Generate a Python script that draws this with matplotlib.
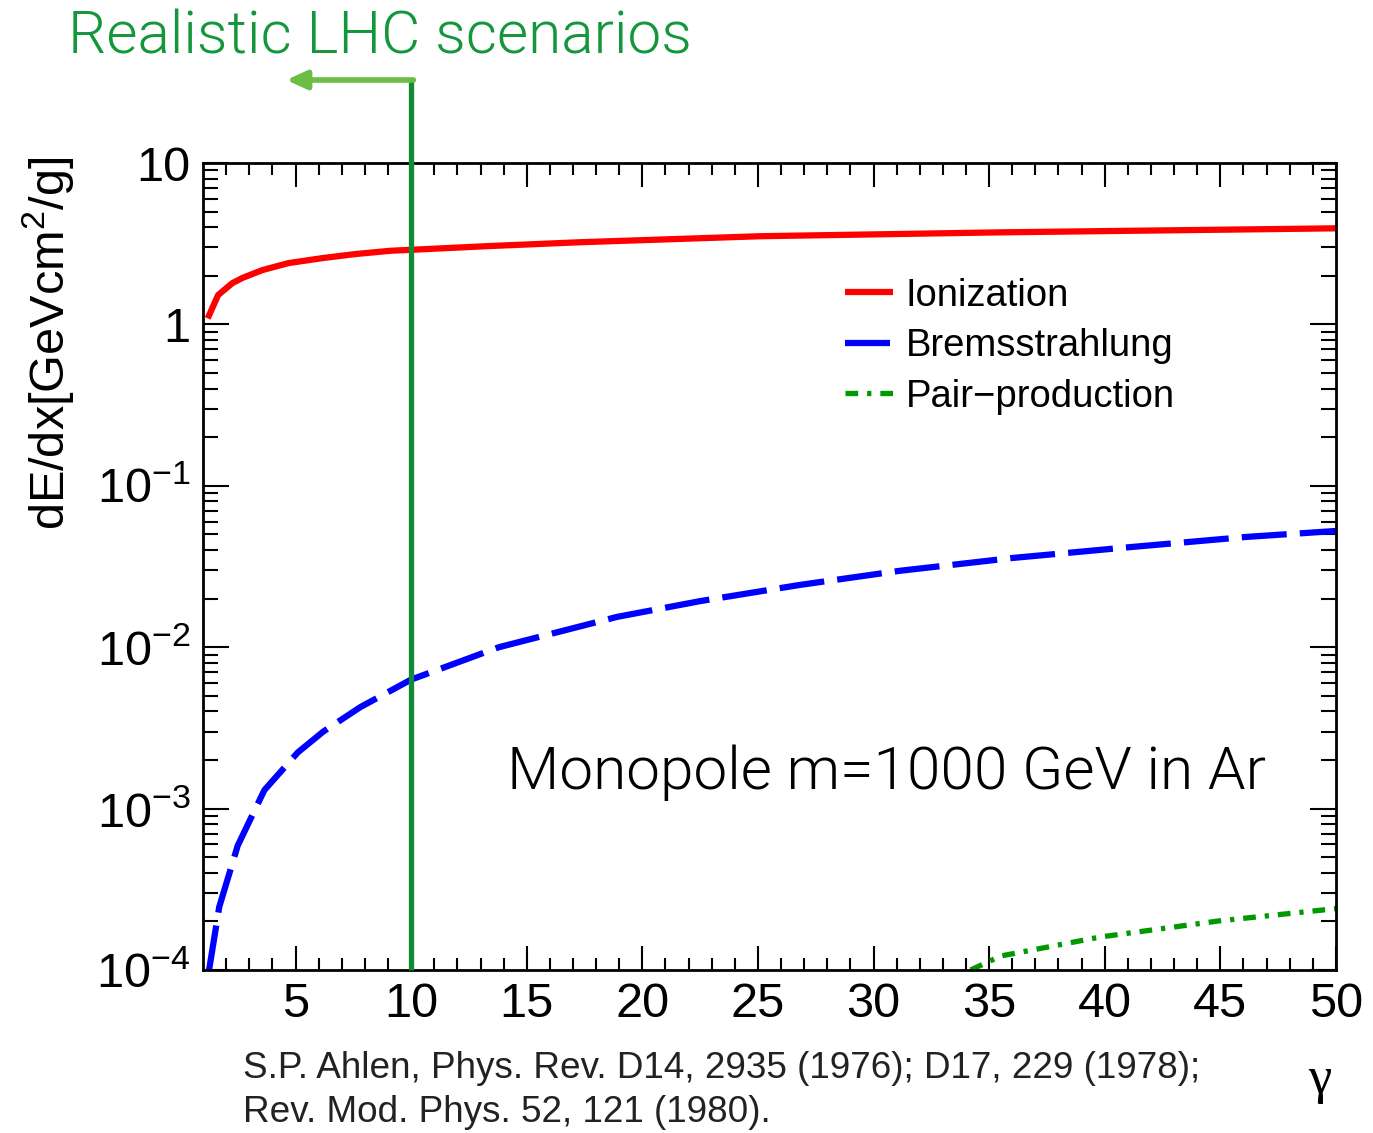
import numpy as np
import matplotlib
matplotlib.use("Agg")
import matplotlib.pyplot as plt
from matplotlib.ticker import FixedLocator, LogLocator, NullFormatter

# --- data ---
gamma_ion = [1.2, 1.65, 2.26, 2.7, 3.56, 4.7, 6.2, 7.6, 9.1, 10, 13.4, 17.3, 25.1, 35.5, 50]
ionization = [1.09, 1.52, 1.80, 1.94, 2.17, 2.40, 2.58, 2.73, 2.86, 2.90, 3.06, 3.23,
              3.52, 3.72, 3.94]

gamma_brems = [1.26, 1.7, 2.5, 3.65, 5.1, 6.2, 7.8, 10, 13.8, 18.9, 22.5,
               26.8, 31.1, 36, 41.1, 46.1, 50]
bremsstrahlung = [1.0e-4, 2.46e-4, 5.9e-4, 1.3e-3, 2.23e-3, 3.0e-3, 4.25e-3,
                  6.3e-3, 0.0100, 0.0154, 0.0193, 0.0243, 0.0297, 0.0357, 0.0417,
                  0.0482, 0.0525]

gamma_pair = [34.2, 35.5, 39.8, 44.9, 50]
pair_production = [1.0e-4, 1.22e-4, 1.60e-4, 2.01e-4, 2.40e-4]

x_ticks = [5, 10, 15, 20, 25, 30, 35, 40, 45, 50]
y_ticks = [1e-4, 1e-3, 1e-2, 1e-1, 1, 10]
y_ticklabels = [r"$10^{-4}$", r"$10^{-3}$", r"$10^{-2}$", r"$10^{-1}$", "1", "10"]

LHC_GAMMA = 10

plt.rcParams['font.family'] = ['Liberation Sans', 'DejaVu Sans']
plt.rcParams['mathtext.fontset'] = 'custom'
plt.rcParams['mathtext.rm'] = 'Liberation Sans'
plt.rcParams['mathtext.it'] = 'Liberation Sans'

fig = plt.figure(figsize=(13.73, 11.33), dpi=100)
ax = fig.add_axes([0.1479, 0.1439, 0.9730 - 0.1479, 0.8561 - 0.1439])

ax.plot(gamma_ion, ionization, color='#ff0000', lw=4.5, label='Ionization',
        solid_capstyle='butt', solid_joinstyle='round')
ax.plot(gamma_brems, bremsstrahlung, color='#0000ff', lw=4.5, label='Bremsstrahlung',
        dashes=(7.2, 2.1))
ax.plot(gamma_pair, pair_production, color='#009900', lw=3.8, label='Pair\u2212production',
        dashes=(2.4, 1.7, 0.8, 1.7))

ax.set_xlim(1, 50)
ax.set_yscale('log')
ax.set_ylim(1e-4, 10)

# ROOT-like frame and ticks
for s in ax.spines.values():
    s.set_linewidth(2.0)
ax.xaxis.set_major_locator(FixedLocator(x_ticks))
ax.xaxis.set_minor_locator(FixedLocator(np.arange(2, 50, 1)))
ax.yaxis.set_major_locator(FixedLocator(y_ticks))
ax.yaxis.set_minor_locator(LogLocator(base=10, subs=np.arange(2, 10)))
ax.yaxis.set_minor_formatter(NullFormatter())
ax.set_xticklabels([str(t) for t in x_ticks])
ax.set_yticklabels(y_ticklabels)
ax.tick_params(axis='both', which='both', direction='in', top=True, right=True,
               width=1.5, labelsize=35)
ax.tick_params(axis='x', which='major', length=17, pad=9)
ax.tick_params(axis='x', which='minor', length=8.5)
ax.tick_params(axis='y', which='major', length=19, pad=9)
ax.tick_params(axis='y', which='minor', length=11)

ax.set_ylabel(r"dE/dx[GeVcm$^{2}$/g]", fontsize=35)
ax.yaxis.set_label_coords(-0.112, 0.776)

# vertical line at gamma = 10 with the arrow above the frame
y_top = 32.7
ax.plot([LHC_GAMMA, LHC_GAMMA], [1e-4, y_top], color='#118c35', lw=3.8,
        clip_on=False, solid_capstyle='butt', zorder=4)
ax.annotate('', xy=(4.6, y_top), xytext=(LHC_GAMMA + 0.1, y_top),
            arrowprops=dict(arrowstyle='-|>,head_length=1.2,head_width=0.55',
                            color='#6cbd45', lw=4.0, shrinkA=0, shrinkB=0),
            annotation_clip=False, zorder=5)

fig.text(68 / 1373, 1 - 37 / 1133, 'Realistic LHC scenarios', color='#14963a',
         fontsize=43.5, family=['Roboto', 'Liberation Sans'], fontweight=300,
         ha='left', va='center')

ax.text(0.268, 0.244, 'Monopole m=1000 GeV in Ar', transform=ax.transAxes,
        fontsize=43.5, family=['Roboto', 'Liberation Sans'], fontweight=300,
        ha='left', va='center')

leg = ax.legend(loc='upper left', bbox_to_anchor=(0.553, 0.877), frameon=False,
                fontsize=27.5, handlelength=1.27, handletextpad=0.33,
                labelspacing=0.38, borderaxespad=0)

cite_font = ['Liberation Sans Narrow', 'Liberation Sans']
fig.text(243 / 1373, 1 - 1068 / 1133,
         'S.P. Ahlen, Phys. Rev. D14, 2935 (1976); D17, 229 (1978);',
         fontsize=26.6, color='#222222', family=cite_font, ha='left', va='center')
fig.text(243 / 1373, 1 - 1112 / 1133, 'Rev. Mod. Phys. 52, 121 (1980).',
         fontsize=26.6, color='#222222', family=cite_font, ha='left', va='center')
fig.text(1320 / 1373, 1 - 1080 / 1133, '\u03b3', fontsize=38,
         family=['Liberation Serif', 'DejaVu Serif'], ha='center', va='center')

fig.savefig('out.png', dpi=100)
